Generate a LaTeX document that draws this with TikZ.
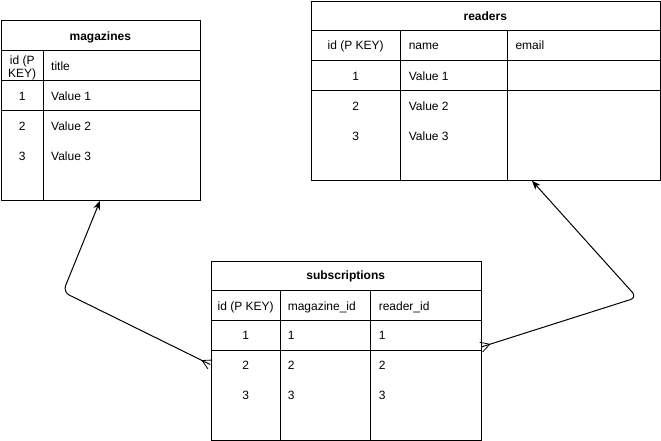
\documentclass[tikz,border=0pt]{standalone}
\usepackage{fontspec}
\setmainfont{Liberation Sans}
\usetikzlibrary{arrows.meta,calc}
\begin{document}
\begin{tikzpicture}[x=1pt,y=-1pt,line width=1pt,
  tbl/.style={draw,line width=1pt,inner sep=0pt,anchor=north west},
  cell/.style={font=\fontsize{12}{14}\selectfont,inner sep=0pt,text height=8.6pt,text depth=0pt},
  lft/.style={cell,anchor=west},
  ttl/.style={cell,font=\fontsize{12}{14}\selectfont\bfseries},
  twoline/.style={font=\fontsize{12}{13}\selectfont,inner sep=0pt,align=center},
  link/.style={line width=1pt,rounded corners=7pt},
  tip/.style={-{Stealth[length=9pt,width=7pt]}},
  foot/.style={line width=0.8pt}]
\useasboundingbox (0,0) rectangle (661,441);

% ---------- magazines ----------
\node[tbl,minimum width=199.3pt,minimum height=180pt] (mag) at (0.7,20.3) {};
\draw (0.7,50.7) -- (200,50.7);
\draw (0.7,81) -- (200,81);
\draw (0.7,111) -- (200,111);
\draw (43.7,50.7) -- (43.7,200.3);
\node[ttl] (magT) at (100.3,36) {magazines};
\node[twoline] (magH1) at (22.2,67.5) {id (P\\KEY)};
\node[lft] (magH2) at (50.7,66) {title};
\node[cell] (mag11) at (22.2,96.5) {1};
\node[lft] (mag12) at (50.7,96.5) {Value 1};
\node[cell] (mag21) at (22.2,126.5) {2};
\node[lft] (mag22) at (50.7,126.5) {Value 2};
\node[cell] (mag31) at (22.2,156) {3};
\node[lft] (mag32) at (50.7,156) {Value 3};

% ---------- readers ----------
\node[tbl,minimum width=349.3pt,minimum height=179.6pt] (rd) at (310.7,0.7) {};
\draw (310.7,30.5) -- (660,30.5);
\draw (310.7,61) -- (660,61);
\draw (310.7,90.5) -- (660,90.5);
\draw (400.7,30.5) -- (400.7,180.3);
\draw (507,30.5) -- (507,180.3);
\node[ttl] (rdT) at (485.3,16) {readers};
\node[cell] (rdH1) at (355.7,45.5) {id (P KEY)};
\node[lft] (rdH2) at (408.3,45.5) {name};
\node[lft] (rdH3) at (515,45.5) {email};
\node[cell] (rd11) at (355.7,76) {1};
\node[lft] (rd12) at (408.3,76) {Value 1};
\node[cell] (rd21) at (355.7,106) {2};
\node[lft] (rd22) at (408.3,106) {Value 2};
\node[cell] (rd31) at (355.7,136) {3};
\node[lft] (rd32) at (408.3,136) {Value 3};

% ---------- subscriptions ----------
\node[tbl,minimum width=270pt,minimum height=179.3pt] (sub) at (210.7,260.7) {};
\draw (210.7,290.7) -- (480.7,290.7);
\draw (210.7,320.7) -- (480.7,320.7);
\draw (210.7,350.7) -- (480.7,350.7);
\draw (280.7,290.7) -- (280.7,440);
\draw (370.7,290.7) -- (370.7,440);
\node[ttl] (subT) at (345.7,275.5) {subscriptions};
\node[cell] (subH1) at (245.7,306) {id (P KEY)};
\node[lft] (subH2) at (287.3,306) {magazine\_id};
\node[lft] (subH3) at (378.3,306) {reader\_id};
\node[cell] (sub11) at (245.7,335.5) {1};
\node[lft] (sub12) at (287.3,335.5) {1};
\node[lft] (sub13) at (378.3,335.5) {1};
\node[cell] (sub21) at (245.7,365.5) {2};
\node[lft] (sub22) at (287.3,365.5) {2};
\node[lft] (sub23) at (378.3,365.5) {2};
\node[cell] (sub31) at (245.7,395) {3};
\node[lft] (sub32) at (287.3,395) {3};
\node[lft] (sub33) at (378.3,395) {3};

% ---------- connectors ----------
\coordinate (subL) at (210.2,364.5);
\coordinate (bendL) at (63,292);
\coordinate (magB) at (100,200.8);
\draw[link,tip] (subL) -- (bendL) -- (magB);
\coordinate (cL) at ($(subL)!9pt!(bendL)$);
\draw[foot] ($(subL)!5pt!90:(bendL)$) -- (cL) -- ($(subL)!5pt!-90:(bendL)$);

\coordinate (subR) at (481.2,347);
\coordinate (bendR) at (637,297.5);
\coordinate (rdB) at (532,180.8);
\draw[link,tip] (subR) -- (bendR) -- (rdB);
\coordinate (cR) at ($(subR)!9pt!(bendR)$);
\draw[foot] ($(subR)!5pt!90:(bendR)$) -- (cR) -- ($(subR)!5pt!-90:(bendR)$);
\end{tikzpicture}
\end{document}
